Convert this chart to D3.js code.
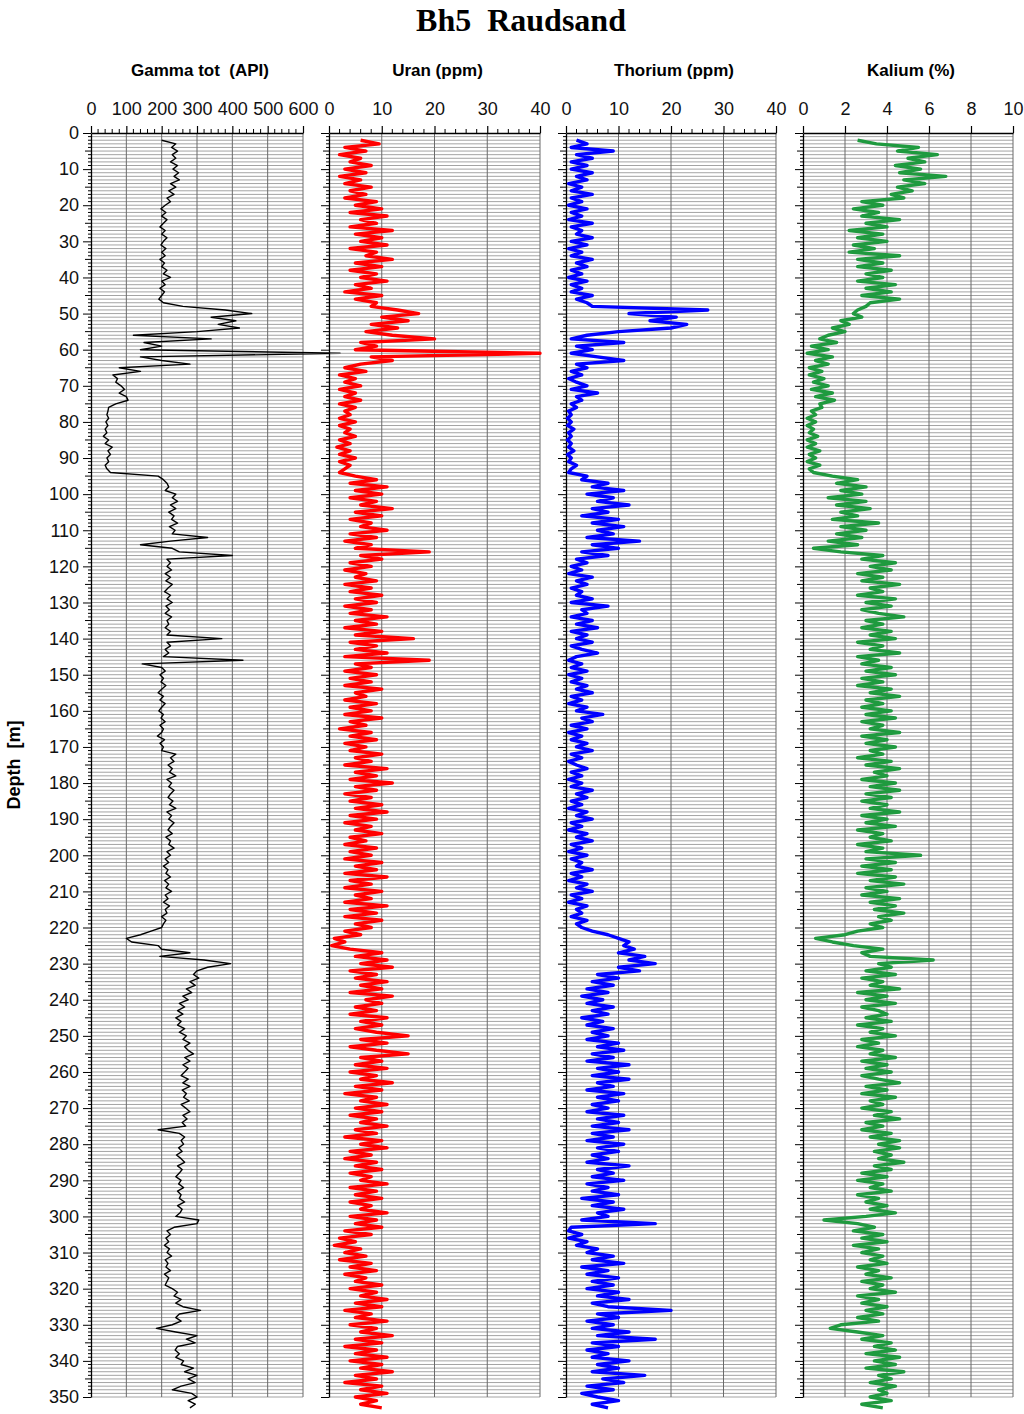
<!DOCTYPE html>
<html><head><meta charset="utf-8">
<script src="https://cdn.jsdelivr.net/npm/d3@7"></script>
<style>body{margin:0;background:#fff} text{white-space:pre}</style>
</head><body>
<svg id="c" width="1024" height="1414"></svg>
<script>
// depth sampling: index i -> depth i (m)
const depthMax = 350;
const depthTicks = d3.range(0, 351, 10);

const gammaTicks = [0,100,200,300,400,500,600];
const uranTicks = [0,10,20,30,40];
const thoriumTicks = [0,10,20,30,40];
const kaliumTicks = [0,2,4,6,8,10];

const gamma = [
null,null,200,240,228,245,230,240,225,245,
232,248,235,250,225,240,220,235,215,225,
210,198,212,200,215,205,195,210,200,215,
205,198,212,200,210,195,208,200,215,205,
225,200,210,195,208,200,192,205,260,380,
455,340,410,360,420,300,120,340,150,200,
140,705,140,200,280,80,140,62,75,70,
85,95,80,100,105,70,50,48,45,50,
42,48,40,45,35,50,40,60,48,55,
45,50,40,45,55,190,205,215,220,210,
240,230,245,225,240,220,235,228,245,222,
238,230,330,225,140,230,250,400,215,225,
215,228,210,225,212,230,218,208,225,215,
230,212,222,210,228,215,220,210,225,215,
370,215,225,210,220,205,430,145,200,210,
195,205,198,212,200,190,205,195,210,200,
192,205,198,210,195,205,200,188,208,195,
205,200,240,225,235,218,230,222,240,215,
228,220,235,225,218,232,222,240,215,228,
220,235,225,218,230,212,225,220,235,215,
225,210,220,205,218,212,225,208,220,212,
228,210,218,205,222,210,215,200,212,205,
200,170,140,100,115,190,200,280,195,320,
395,330,300,290,305,280,295,270,285,260,
275,250,265,245,260,240,255,245,265,250,
270,260,280,265,275,290,265,280,260,275,
265,255,275,260,280,258,270,262,278,255,
268,280,260,272,258,268,190,250,265,255,
262,248,258,242,255,265,245,258,250,240,
255,248,262,245,255,250,265,245,258,252,
240,305,300,235,215,225,212,220,208,222,
215,228,210,218,212,225,208,220,215,210,
230,245,235,255,240,260,310,250,240,255,
230,185,240,300,270,295,245,238,250,240,
262,255,290,265,300,275,295,255,230,285,
300,275,295,280];

const uran = [
null,null,6,9.5,3,7,2,6,4,8,
3,7,2,6,3,8,4,7,3,9,
5,10,4,11,6,9,4,12,5,10,
6,11,4,9,7,12,5,10,4,9,
6,11,5,8,3,10,5,9,8,13,
17,10,15,8,13,7,12,20,6,9,
5,40,8,12,6,3,7,2,5,3,
6,2,5,3,6,2,5,3,4,2,
5,2,4,3,5,2,4,1.5,4,2,
5,2,4,3,2,5,9,4,11,5,
10,4,9,6,12,5,10,4,8,6,
11,4,9,3,8,5,19,6,10,4,
8,3,7,5,9,3,8,4,10,5,
9,3,8,4,11,5,9,3,10,5,
16,4,9,5,11,3,19,5,8,3,
9,4,8,3,10,5,7,3,9,4,
8,3,10,4,7,2,8,4,9,3,
7,4,10,5,8,3,11,5,9,4,
12,5,9,3,8,4,10,5,11,4,
9,3,8,5,10,4,7,3,9,4,
8,3,10,5,9,3,11,4,8,3,
10,5,8,3,11,4,9,3,10,5,
8,3,6,1,3,0.5,4,10,5,11,
6,12,4,9,5,11,6,10,4,12,
7,10,5,9,4,11,6,10,5,9,
15,6,11,4,9,15,6,10,5,11,
4,9,6,12,5,10,3,9,6,11,
5,10,4,9,6,11,5,9,3,10,
6,11,4,8,3,9,5,10,4,8,
6,11,4,9,5,10,4,8,6,11,
4,9,5,10,3,8,2,5,1,6,
3,7,2,8,4,9,3,7,5,10,
4,9,6,11,5,10,3,8,5,11,
4,9,6,12,5,10,3,9,5,11,
4,10,6,12,5,9,3,10,6,11,
5,9,6,10];

const thorium = [
null,null,2,4,1,9,2,5,1,4,
1,5,2,4,0.5,3,1,5,1,3,
0.5,4,1,3,0.5,5,1,3,2,5,
1,4,0.5,3,1,5,2,4,1,3,
0.5,4,1,3,1,5,2,4,5,27,
12,21,16,23,20,10,4,1,11,2,
5,1,6,11,2,4,1,3,0.5,2,
4,1,6,2,3,1,2,0.5,1,0.3,
1,0.3,1.5,0.5,1,0.3,1,0.5,1.5,0.3,
1,0.5,2,1,0.5,4,3,8,5,11,
4,9,6,12,5,8,3,10,5,11,
6,9,4,14,5,10,3,8,2,4,
1,3,0.5,5,2,4,1,3,2,5,
1,8,3,4,1,5,2,6,1,4,
2,5,1,3,6,2,0.5,3,1,4,
0.5,3,1,4,2,5,1,3,0.5,4,
2,7,3,5,1,4,0.5,3,1,4,
2,5,1,3,0.5,2,4,1,3,0.5,
3,1,5,2,4,1,3,0.5,4,2,
5,1,3,0.5,4,2,5,1,3,0.5,
4,1,3,2,5,1,3,0.5,4,2,
5,1,3,0.5,4,2,3,1,4,2,
3,5,8,10,12,11,13,10,15,12,
17,10,14,6,10,5,9,4,8,3,
7,4,9,5,8,3,7,4,9,5,
8,4,10,6,11,5,9,4,12,6,
10,5,12,6,9,4,11,6,10,5,
8,4,11,6,10,5,12,5,9,4,
11,6,10,5,8,4,12,6,9,5,
11,4,8,5,10,3,9,5,11,6,
8,3,17,1,0.5,3,0.5,4,2,6,
4,9,5,11,3,8,4,10,5,9,
4,10,6,12,5,8,20,6,10,4,
9,5,12,6,17,5,10,4,8,5,
12,6,10,5,15,7,11,4,9,3,
6,10,5,8];

const kalium = [
null,null,2.6,3.5,5.5,4.5,6.4,5,5.8,4.4,
5.6,4.6,6.8,4.8,5.8,4.5,5.2,4.2,4.8,2.8,
3.8,2.4,3.6,2.8,4.6,3,4,2.2,3.8,2.6,
4,2.4,3.4,2.2,4.6,2.6,3.8,2.6,4.2,3,
3.8,2.6,4.4,3,4.2,2.8,4.6,3.2,3,2.6,
2.4,2.8,1.8,2.2,1.4,2,1.2,0.8,1.6,0.4,
1.2,0.2,1.4,0.6,1.2,0.3,0.9,0.3,1,0.5,
1.2,0.4,1.4,0.6,1.5,0.8,0.9,0.4,0.6,0.2,
0.6,0.2,0.5,0.3,0.7,0.2,0.6,0.2,0.8,0.3,
0.6,0.2,0.8,0.3,0.5,1.4,2.6,1.6,3,1.8,
2.8,1.2,3,1.6,3.2,1.8,2.6,1.4,3.6,1.8,
3,1.6,2.8,1.2,2.6,0.5,1.8,3.8,2.8,4.4,
3.2,4.2,2.6,3.8,2.8,4.6,3.2,3.8,2.6,4.4,
3,4.2,2.8,3.6,4.8,3,3.8,2.8,4.2,3.2,
4.4,2.6,3.8,3.2,4.6,2.6,3.6,2.8,4.2,3,
4.4,2.8,3.8,2.6,4.2,3.2,4.6,3,3.8,2.8,
4.2,3,4.4,2.8,3.8,3.2,4.6,2.8,4,3,
4.4,3.2,3.8,2.6,4.2,3,4.6,3.4,4,2.8,
4.4,3.2,4.6,3,4.2,2.8,4,3.2,4.6,2.8,
4,3,4.4,2.6,3.8,3.2,4.2,2.6,3.8,3,
5.6,3,4.4,2.8,4.2,2.6,4.4,3.2,4.8,3,
4,2.8,4.6,3.2,4.4,3.4,4.8,3.6,4.2,3.2,
3.8,2.6,2,0.6,1.4,2.4,3.8,2.8,3.2,6.2,
3.6,4.2,3,4.4,2.8,3.8,3.2,4.6,2.6,4,
3,4.4,2.8,3.6,4,3,4.2,2.6,3.8,3.2,
4.4,2.8,3.6,2.6,3.8,3.2,4.4,2.8,4,3,
4.2,2.8,3.6,4.6,3,4,2.8,4.4,3.2,3.8,
2.8,4.2,3.4,4.6,3,3.8,2.8,4.2,3.2,4.6,
3.6,4.6,3.4,4.2,3.6,4.8,3.4,4.2,2.8,4,
2.6,3.8,3.2,4.2,2.6,3.6,3,4,3.2,4.4,
3,1,2.6,3.4,2.4,3.8,2.8,4,2.4,3.6,
2.8,3.8,3.2,4,2.6,3.6,3,4.2,2.8,3.8,
3.2,4.4,2.6,3.6,2.8,4,3,3.8,2.6,3.6,
1.8,1.3,2.6,3.8,2.8,4.2,3.4,4.4,3,4.6,
3.4,4.4,3,4.8,3.6,4.2,3.2,4.4,3.6,4,
3.2,4.2,2.8,3.8];

const tracks = [
  {title:"Gamma tot  (API)", data:gamma, domain:[0,600], ticks:gammaTicks, minor:20, x0:91, x1:303, color:"#000", w:1.4},
  {title:"Uran (ppm)", data:uran, domain:[0,40], ticks:uranTicks, minor:2, x0:329, x1:540, color:"#ff0000", w:3.4},
  {title:"Thorium (ppm)", data:thorium, domain:[0,40], ticks:thoriumTicks, minor:2, x0:566, x1:776, color:"#0000ff", w:3.4},
  {title:"Kalium (%)", data:kalium, domain:[0,10], ticks:kaliumTicks, minor:null, x0:803, x1:1013, color:"#1f9a3f", w:3.4}
];

const svg = d3.select("#c");
const y = d3.scaleLinear().domain([0, depthMax]).range([133, 1397]);

svg.append("text").attr("x", 521).attr("y", 31).attr("text-anchor","middle")
  .attr("font-family","'Liberation Serif','Times New Roman',serif").attr("font-weight","bold")
  .attr("font-size", 32).text("Bh5  Raudsand");

const sans = "'Liberation Sans',Arial,sans-serif";

svg.append("text").attr("transform","translate(20,765) rotate(-90)").attr("text-anchor","middle")
  .attr("font-family",sans).attr("font-weight","bold")
  .attr("font-size",18).text("Depth  [m]");

tracks.forEach((t, ti) => {
  const x = d3.scaleLinear().domain(t.domain).range([t.x0, t.x1]);
  const g = svg.append("g");
  // horizontal grid every 1 m
  g.append("g").selectAll("line").data(d3.range(1, depthMax + 1)).join("line")
    .attr("x1", t.x0).attr("x2", t.x1).attr("y1", d => y(d)).attr("y2", d => y(d))
    .attr("stroke", "#9a9a9a").attr("stroke-width", 0.9);
  // vertical grid at major ticks
  g.append("g").selectAll("line").data(t.ticks.slice(1)).join("line")
    .attr("x1", d => x(d)).attr("x2", d => x(d)).attr("y1", y(0)).attr("y2", y(depthMax))
    .attr("stroke", "#6a6a6a").attr("stroke-width", 1);
  // top axis
  const top = d3.axisTop(x).tickValues(t.ticks).tickSize(7).tickSizeOuter(0).tickFormat(d3.format("d"));
  const ta = g.append("g").attr("transform", `translate(0,${y(0)})`).call(top);
  ta.select(".domain").attr("stroke-width", 1.3);
  ta.selectAll(".tick line").attr("stroke-width", 1.2);
  ta.selectAll("text").attr("font-family", sans).attr("font-size", 18).attr("fill","#111").attr("dy","-0.45em");
  if (t.minor) {
    const minors = d3.range(t.domain[0], t.domain[1] + 0.001, t.minor).filter(v => !t.ticks.includes(v));
    g.append("g").selectAll("line").data(minors).join("line")
      .attr("x1", d => x(d)).attr("x2", d => x(d)).attr("y1", y(0)).attr("y2", y(0) - 4)
      .attr("stroke", "#000").attr("stroke-width", 1);
  }
  // left depth axis
  const left = d3.axisLeft(y).tickValues(depthTicks).tickSize(8).tickSizeOuter(0)
    .tickFormat(ti === 0 ? d3.format("d") : () => "");
  const la = g.append("g").attr("transform", `translate(${t.x0},0)`).call(left);
  la.select(".domain").attr("stroke-width", 1.3);
  la.selectAll("text").attr("font-family", sans).attr("font-size", 18).attr("fill","#111").attr("dx","-0.05em");
  const minorD = d3.range(1, depthMax).filter(d => d % 10 !== 0);
  g.append("g").selectAll("line").data(minorD).join("line")
    .attr("x1", t.x0).attr("x2", d => t.x0 - (d % 5 === 0 ? 6 : 3)).attr("y1", d => y(d)).attr("y2", d => y(d))
    .attr("stroke", "#000").attr("stroke-width", 1);
  // header
  svg.append("text").attr("x", (t.x0 + t.x1) / 2 + 3).attr("y", 76).attr("text-anchor","middle")
    .attr("font-family", sans).attr("font-weight","bold").attr("font-size",17).text(t.title);
  // curve
  const line = d3.line().defined(d => d != null).x(d => x(d)).y((d, i) => y(i));
  g.append("path").datum(t.data).attr("d", line).attr("fill","none")
    .attr("stroke", t.color).attr("stroke-width", t.w).attr("stroke-linejoin","round");
});
</script>
</body></html>
